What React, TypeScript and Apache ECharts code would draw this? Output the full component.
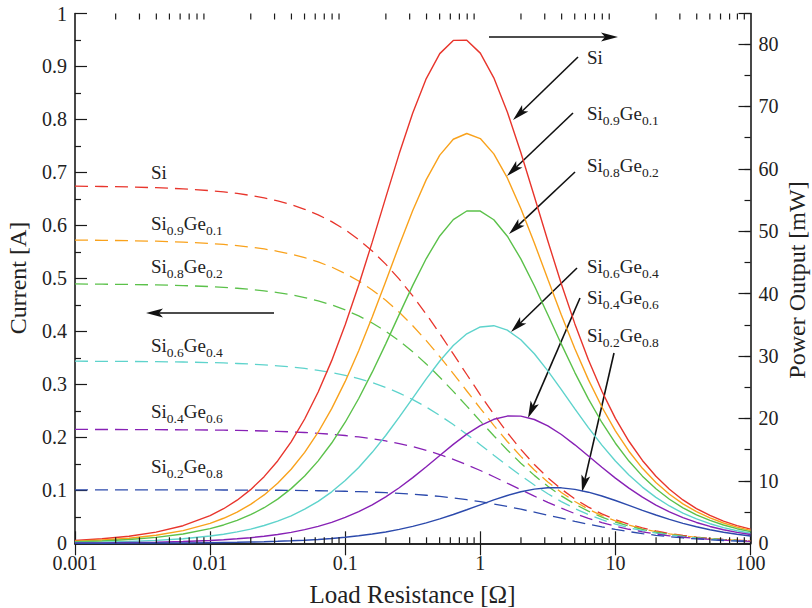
import React, { useEffect, useRef } from 'react';
import * as echarts from 'echarts';

// Load resistance [Ohm] (sample points, log-spaced)
const resistance = [0.001, 0.001585, 0.002512, 0.003981, 0.00631, 0.01, 0.01259, 0.01585, 0.01995, 0.02512, 0.03162, 0.03981, 0.05012, 0.0631, 0.07943, 0.1, 0.1259, 0.1585, 0.1995, 0.2512, 0.3162, 0.3981, 0.5012, 0.631, 0.7943, 1, 1.259, 1.585, 1.995, 2.512, 3.162, 3.981, 5.012, 6.31, 7.943, 10, 12.59, 15.85, 19.95, 25.12, 31.62, 39.81, 50.12, 63.1, 79.43, 100];

const materials = ['Si', 'Si0.9Ge0.1', 'Si0.8Ge0.2', 'Si0.6Ge0.4', 'Si0.4Ge0.6', 'Si0.2Ge0.8'];

// Current [A]
const currentSi = [0.674, 0.6735, 0.6726, 0.6712, 0.669, 0.6656, 0.6632, 0.6603, 0.6566, 0.6519, 0.6462, 0.6392, 0.6305, 0.6199, 0.6071, 0.5917, 0.5733, 0.5518, 0.5269, 0.4986, 0.467, 0.4325, 0.3957, 0.3574, 0.3186, 0.2803, 0.2434, 0.2088, 0.1772, 0.1487, 0.1238, 0.1022, 0.0838, 0.0683, 0.0554, 0.0448, 0.036, 0.0289, 0.0232, 0.0186, 0.0148, 0.0118, 0.0094, 0.0075, 0.006, 0.0048];
const currentSi09 = [0.5723, 0.5719, 0.5712, 0.5702, 0.5685, 0.5659, 0.5641, 0.5619, 0.5591, 0.5556, 0.5512, 0.5458, 0.5392, 0.5311, 0.5213, 0.5093, 0.4951, 0.4782, 0.4586, 0.4361, 0.4107, 0.3826, 0.3523, 0.3203, 0.2875, 0.2547, 0.2226, 0.1922, 0.164, 0.1384, 0.1157, 0.0959, 0.0789, 0.0645, 0.0524, 0.0424, 0.0342, 0.0275, 0.0221, 0.0177, 0.0141, 0.0113, 0.009, 0.0072, 0.0057, 0.0045];
const currentSi08 = [0.4895, 0.4891, 0.4886, 0.4878, 0.4865, 0.4846, 0.4832, 0.4814, 0.4793, 0.4765, 0.4732, 0.469, 0.4639, 0.4576, 0.4499, 0.4405, 0.4293, 0.4159, 0.4003, 0.3821, 0.3616, 0.3386, 0.3135, 0.2867, 0.2589, 0.2307, 0.2029, 0.1762, 0.1512, 0.1282, 0.1076, 0.0895, 0.0739, 0.0606, 0.0494, 0.0401, 0.0324, 0.0261, 0.0209, 0.0168, 0.0134, 0.0107, 0.0085, 0.0068, 0.0054, 0.0043];
const currentSi06 = [0.3437, 0.3435, 0.3433, 0.3428, 0.3422, 0.3411, 0.3404, 0.3394, 0.3383, 0.3368, 0.335, 0.3328, 0.33, 0.3265, 0.3223, 0.3171, 0.3108, 0.3033, 0.2943, 0.2836, 0.2713, 0.2572, 0.2414, 0.2241, 0.2056, 0.1862, 0.1664, 0.1468, 0.1278, 0.1099, 0.0935, 0.0787, 0.0656, 0.0542, 0.0445, 0.0363, 0.0295, 0.0238, 0.0192, 0.0154, 0.0124, 0.0099, 0.0079, 0.0063, 0.005, 0.004];
const currentSi04 = [0.2149, 0.2148, 0.2147, 0.2145, 0.2142, 0.2138, 0.2135, 0.2131, 0.2126, 0.212, 0.2112, 0.2103, 0.2091, 0.2076, 0.2058, 0.2035, 0.2007, 0.1973, 0.1932, 0.1883, 0.1824, 0.1755, 0.1676, 0.1585, 0.1484, 0.1374, 0.1256, 0.1134, 0.1011, 0.0889, 0.0772, 0.0662, 0.0561, 0.0471, 0.0392, 0.0323, 0.0265, 0.0216, 0.0175, 0.0142, 0.0114, 0.0092, 0.0073, 0.0059, 0.0047, 0.0037];
const currentSi02 = [0.101, 0.101, 0.1009, 0.1009, 0.1008, 0.1007, 0.1006, 0.1005, 0.1004, 0.1003, 0.1001, 0.0999, 0.0996, 0.0992, 0.0988, 0.0982, 0.0975, 0.0966, 0.0956, 0.0942, 0.0926, 0.0907, 0.0884, 0.0856, 0.0823, 0.0786, 0.0743, 0.0695, 0.0643, 0.0588, 0.0531, 0.0473, 0.0415, 0.036, 0.0309, 0.0262, 0.022, 0.0183, 0.0151, 0.0124, 0.0101, 0.0082, 0.0066, 0.0053, 0.0043, 0.0034];

// Power output [mW]
const powerSi = [0.45, 0.72, 1.14, 1.79, 2.82, 4.43, 5.54, 6.91, 8.6, 10.68, 13.2, 16.26, 19.92, 24.25, 29.27, 35.01, 41.39, 48.26, 55.39, 62.45, 68.96, 74.47, 78.47, 80.59, 80.62, 78.55, 74.59, 69.12, 62.62, 55.58, 48.44, 41.55, 35.16, 29.41, 24.37, 20.02, 16.35, 13.28, 10.74, 8.65, 6.95, 5.57, 4.46, 3.56, 2.84, 2.26];
const powerSi09 = [0.33, 0.52, 0.82, 1.29, 2.04, 3.2, 4.01, 5.0, 6.24, 7.75, 9.61, 11.86, 14.57, 17.8, 21.58, 25.94, 30.86, 36.25, 41.96, 47.77, 53.33, 58.28, 62.2, 64.75, 65.67, 64.86, 62.4, 58.55, 53.66, 48.12, 42.33, 36.6, 31.18, 26.23, 21.84, 18.02, 14.76, 12.01, 9.74, 7.86, 6.32, 5.07, 4.06, 3.25, 2.59, 2.07];
const powerSi08 = [0.24, 0.38, 0.6, 0.95, 1.49, 2.35, 2.94, 3.67, 4.58, 5.7, 7.08, 8.76, 10.79, 13.21, 16.07, 19.4, 23.2, 27.42, 31.96, 36.68, 41.33, 45.63, 49.25, 51.87, 53.25, 53.24, 51.85, 49.21, 45.58, 41.28, 36.63, 31.91, 27.36, 23.15, 19.36, 16.04, 13.18, 10.76, 8.74, 7.06, 5.69, 4.57, 3.66, 2.93, 2.34, 1.87];
const powerSi06 = [0.12, 0.19, 0.3, 0.47, 0.74, 1.16, 1.46, 1.83, 2.28, 2.85, 3.55, 4.41, 5.46, 6.73, 8.25, 10.06, 12.16, 14.58, 17.27, 20.21, 23.27, 26.34, 29.22, 31.7, 33.58, 34.67, 34.87, 34.16, 32.61, 30.37, 27.64, 24.63, 21.54, 18.53, 15.73, 13.18, 10.94, 9.01, 7.36, 5.98, 4.84, 3.9, 3.14, 2.52, 2.01, 1.61];
const powerSi04 = [0.05, 0.07, 0.12, 0.18, 0.29, 0.46, 0.57, 0.72, 0.9, 1.13, 1.41, 1.76, 2.19, 2.72, 3.36, 4.14, 5.07, 6.17, 7.45, 8.9, 10.52, 12.27, 14.07, 15.85, 17.49, 18.87, 19.87, 20.39, 20.38, 19.84, 18.83, 17.43, 15.78, 14.0, 12.19, 10.45, 8.84, 7.39, 6.12, 5.03, 4.11, 3.34, 2.7, 2.17, 1.75, 1.4];
const powerSi02 = [0.01, 0.02, 0.03, 0.04, 0.06, 0.1, 0.13, 0.16, 0.2, 0.25, 0.32, 0.4, 0.5, 0.62, 0.77, 0.96, 1.2, 1.48, 1.82, 2.23, 2.71, 3.27, 3.91, 4.62, 5.38, 6.17, 6.95, 7.66, 8.26, 8.68, 8.9, 8.89, 8.64, 8.19, 7.58, 6.86, 6.08, 5.29, 4.53, 3.83, 3.2, 2.65, 2.18, 1.78, 1.44, 1.17];

const xTickLabels = ['0.001', '0.01', '0.1', '1', '10', '100'];
const minorXTicks = [
  0.002, 0.003, 0.004, 0.005, 0.006, 0.007, 0.008, 0.009,
  0.02, 0.03, 0.04, 0.05, 0.06, 0.07, 0.08, 0.09,
  0.2, 0.3, 0.4, 0.5, 0.6, 0.7, 0.8, 0.9,
  2, 3, 4, 5, 6, 7, 8, 9,
  20, 30, 40, 50, 60, 70, 80, 90,
];

const currents = [currentSi, currentSi09, currentSi08, currentSi06, currentSi04, currentSi02];
const powers = [powerSi, powerSi09, powerSi08, powerSi06, powerSi04, powerSi02];

const COLORS = ['#e8352c', '#f9a21c', '#5bc14a', '#5ed3cc', '#8721b5', '#2c4aac'];
const FONT = "'Liberation Serif', 'Times New Roman', serif";
const INK = '#1a1a1a';
const TEXT = '#222';

// annotation placement (pixels)
const leftLabelPos = [[151, 172.5], [151, 223], [151, 266.5], [151, 345.5], [151, 411], [151, 466.5]];
const rightLabelPos = [[587, 57], [587, 113], [587, 165], [587, 266.5], [587, 297], [587, 335]];
const arrowLines = [
  [489, 37, 618, 37],
  [274, 313, 146, 313],
  [578, 57, 513, 120],
  [573, 113, 507, 176],
  [575, 172, 509, 234],
  [577, 268, 511, 332],
  [580, 298, 528, 418],
  [614, 353, 582, 492],
];

function richLabel(name: string, x: number, y: number) {
  const m = name.match(/^Si([\d.]+)?(?:Ge([\d.]+))?$/);
  let text = '{m|Si}';
  if (m && m[1]) text += `{s|${m[1]}}`;
  if (m && m[2]) text += `{m|Ge}{s|${m[2]}}`;
  return {
    type: 'text',
    x,
    y,
    silent: true,
    style: {
      text,
      align: 'left',
      verticalAlign: 'middle',
      rich: {
        m: { fontSize: 19, fontFamily: FONT, fill: TEXT },
        s: { fontSize: 13.5, fontFamily: FONT, fill: TEXT, padding: [14, 0, 0, 0] },
      },
    },
  };
}

function arrow(x1: number, y1: number, x2: number, y2: number) {
  const dx = x2 - x1;
  const dy = y2 - y1;
  const len = Math.hypot(dx, dy);
  const ux = dx / len;
  const uy = dy / len;
  const nx = -uy;
  const ny = ux;
  const L = 17;
  const W = 4.5;
  const N = 4;
  const bx = x2 - ux * L;
  const by = y2 - uy * L;
  const ix = x2 - ux * (L - N);
  const iy = y2 - uy * (L - N);
  return {
    type: 'group',
    silent: true,
    children: [
      { type: 'line', shape: { x1, y1, x2: ix, y2: iy }, style: { stroke: '#111', lineWidth: 1.6 } },
      {
        type: 'polygon',
        shape: { points: [[x2, y2], [bx + nx * W, by + ny * W], [ix, iy], [bx - nx * W, by - ny * W]] },
        style: { fill: '#111' },
      },
    ],
  };
}

export default function App() {
  const ref = useRef<HTMLDivElement>(null);

  useEffect(() => {
    if (!ref.current) return;
    const chart = echarts.init(ref.current, undefined, { renderer: 'svg' });

    const series: any[] = [];
    materials.forEach((name, i) => {
      series.push({
        type: 'line',
        name: name + ' current',
        xAxisIndex: 0,
        yAxisIndex: 0,
        data: resistance.map((r, j) => [r, currents[i][j]]),
        showSymbol: false,
        silent: true,
        lineStyle: { color: COLORS[i], width: 1.3, type: [13, 7] },
        z: 3,
      });
      series.push({
        type: 'line',
        name: name + ' power',
        xAxisIndex: 0,
        yAxisIndex: 1,
        data: resistance.map((r, j) => [r, powers[i][j]]),
        showSymbol: false,
        silent: true,
        lineStyle: { color: COLORS[i], width: 1.4, type: 'solid' },
        z: 4,
      });
    });

    series.push({
      type: 'custom',
      name: 'minor ticks',
      xAxisIndex: 0,
      yAxisIndex: 0,
      silent: true,
      clip: false,
      z: 6,
      data: minorXTicks.map((v) => [v, 0]),
      renderItem: (_params: any, api: any) => {
        const x = api.value(0);
        const pb = api.coord([x, 0]);
        const pt = api.coord([x, 1]);
        return {
          type: 'group',
          children: [
            { type: 'line', shape: { x1: pb[0], y1: pb[1], x2: pb[0], y2: pb[1] - 6 }, style: { stroke: INK, lineWidth: 1.2 } },
            { type: 'line', shape: { x1: pt[0], y1: pt[1], x2: pt[0], y2: pt[1] + 6 }, style: { stroke: INK, lineWidth: 1.2 } },
          ],
        };
      },
    });

    const axisLine = { show: true, lineStyle: { color: INK, width: 1.6 } };
    const majorTick = { show: true, inside: true, length: 12, lineStyle: { color: INK, width: 1.2 } };
    const labelStyle = { fontSize: 20, fontFamily: FONT, color: TEXT };

    const graphic: any[] = [
      {
        type: 'text', x: 412.5, y: 594, silent: true,
        style: { text: 'Load Resistance [Ω]', fontSize: 25, fontFamily: FONT, fill: TEXT, align: 'center', verticalAlign: 'middle' },
      },
      {
        type: 'text', x: 18, y: 278, rotation: Math.PI / 2, silent: true,
        style: { text: 'Current [A]', fontSize: 24, fontFamily: FONT, fill: TEXT, align: 'center', verticalAlign: 'middle' },
      },
      {
        type: 'text', x: 797, y: 280, rotation: Math.PI / 2, silent: true,
        style: { text: 'Power Output [mW]', fontSize: 24, fontFamily: FONT, fill: TEXT, align: 'center', verticalAlign: 'middle' },
      },
    ];
    materials.forEach((name, i) => {
      graphic.push(richLabel(name, leftLabelPos[i][0], leftLabelPos[i][1]));
      graphic.push(richLabel(name, rightLabelPos[i][0], rightLabelPos[i][1]));
    });
    arrowLines.forEach((a) => graphic.push(arrow(a[0], a[1], a[2], a[3])));

    chart.setOption({
      animation: false,
      backgroundColor: '#ffffff',
      grid: { left: 75, right: 61.5, top: 13.5, bottom: 64.7, containLabel: false, outerBoundsMode: 'none' },
      xAxis: [
        {
          type: 'log', logBase: 10, min: 0.001, max: 100, position: 'bottom',
          axisLine, axisTick: majorTick, splitLine: { show: false }, minorTick: { show: false },
          axisLabel: {
            ...labelStyle, margin: 10,
            formatter: (v: number) => xTickLabels[Math.round(Math.log10(v)) + 3] ?? '',
          },
        },
        {
          type: 'log', logBase: 10, min: 0.001, max: 100, position: 'top',
          axisLine, axisTick: majorTick, splitLine: { show: false }, axisLabel: { show: false },
        },
      ],
      yAxis: [
        {
          type: 'value', min: 0, max: 1, interval: 0.1, position: 'left',
          axisLine, axisTick: majorTick,
          minorTick: { show: true, splitNumber: 2, length: 6, lineStyle: { color: INK, width: 1.2 } },
          splitLine: { show: false }, minorSplitLine: { show: false },
          axisLabel: { ...labelStyle, margin: 8 },
        },
        {
          type: 'value', min: 0, max: 84.9, interval: 10, position: 'right',
          axisLine, axisTick: majorTick, splitLine: { show: false },
          axisLabel: { ...labelStyle, margin: 8, formatter: (v: number) => (Math.abs(v % 10) < 1e-9 ? String(v) : '') },
        },
        {
          type: 'value', min: 0, max: 84.9, interval: 5, position: 'right',
          axisLine: { show: false },
          axisTick: { show: true, inside: true, length: 6, lineStyle: { color: INK, width: 1.2 } },
          splitLine: { show: false }, axisLabel: { show: false },
        },
      ],
      series,
      graphic,
    });

    return () => {
      chart.dispose();
    };
  }, []);

  return (
    <div
      ref={ref}
      style={{ position: 'absolute', left: 0, top: 0, width: 812, height: 608, background: '#fff' }}
    />
  );
}
